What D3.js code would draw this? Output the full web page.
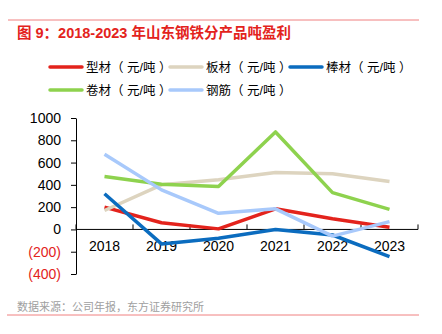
<!DOCTYPE html>
<html>
<head>
<meta charset="utf-8">
<script src="https://cdn.jsdelivr.net/npm/d3@7"></script>
<style>
  body { margin: 0; background: #fff; }
  text { font-family: "Liberation Sans", Arial, "Noto Sans CJK SC", sans-serif; }
</style>
</head>
<body>
<svg id="chart"></svg>
<script>
const years = ["2018", "2019", "2020", "2021", "2022", "2023"];
const xingcai = [200, 60, 5, 185, 95, 20];
const bancai = [170, 400, 445, 510, 500, 430];
const bangcai = [320, -130, -80, 0, -50, -245];
const juancai = [475, 405, 385, 875, 330, 180];
const gangjin = [675, 355, 145, 185, -60, 70];
const yTicks = [1000, 800, 600, 400, 200, 0, -200, -400];

const series = [
  { name: "型材（ 元/吨 ）", values: xingcai, color: "#e3231c" },
  { name: "板材（ 元/吨 ）", values: bancai, color: "#ddd4bf" },
  { name: "棒材（ 元/吨 ）", values: bangcai, color: "#0b6cbf" },
  { name: "卷材（ 元/吨 ）", values: juancai, color: "#8ed24e" },
  { name: "钢筋（ 元/吨 ）", values: gangjin, color: "#a8c9fb" }
];

const W = 442, H = 334;
const svg = d3.select("#chart").attr("width", W).attr("height", H);

// header and footer rules
svg.append("line").attr("x1", 8).attr("x2", 419).attr("y1", 20).attr("y2", 20)
  .attr("stroke", "#f08080").attr("stroke-width", 1);
svg.append("text").attr("x", 17).attr("y", 38)
  .attr("fill", "#e3231c").attr("font-size", 14.5).attr("font-weight", "bold")
  .text("图 9：2018-2023 年山东钢铁分产品吨盈利");
svg.append("line").attr("x1", 7).attr("x2", 419).attr("y1", 315).attr("y2", 315)
  .attr("stroke", "#f08080").attr("stroke-width", 1);
svg.append("text").attr("x", 17).attr("y", 311)
  .attr("fill", "#a0a0a0").attr("font-size", 11)
  .text("数据来源：公司年报，东方证券研究所");

// legend
const legendPos = [[50, 67], [170, 67], [290, 67], [50, 90], [170, 90]];
series.forEach((s, i) => {
  const [lx, ly] = legendPos[i];
  svg.append("line").attr("x1", lx).attr("x2", lx + 32).attr("y1", ly).attr("y2", ly)
    .attr("stroke", s.color).attr("stroke-width", 3.5).attr("stroke-linecap", "round");
  svg.append("text").attr("x", lx + 36).attr("y", ly + 5)
    .attr("font-size", 12.5).attr("fill", "#000").text(s.name);
});

// scales
const x = d3.scaleBand().domain(years).range([76, 418]);
const y = d3.scaleLinear().domain([-400, 1000]).range([274, 118]);

// y axis
const yAxis = svg.append("g").attr("transform", "translate(76,0)")
  .call(d3.axisLeft(y).tickValues(yTicks).tickSize(5).tickSizeOuter(0)
    .tickFormat(d => d < 0 ? `(${-d})` : d));
yAxis.select(".domain").attr("stroke", "#000");
yAxis.selectAll("text").attr("font-size", 14).attr("x", -15)
  .attr("fill", d => d < 0 ? "#e3231c" : "#000");

// x axis at zero
const xAxis = svg.append("g").attr("transform", `translate(0,${y(0)})`);
xAxis.append("line").attr("x1", 76).attr("x2", 418).attr("stroke", "#000");
const edges = years.map(d => x(d)).concat([x.range()[1]]);
xAxis.selectAll(".tk").data(edges).join("line").attr("class", "tk")
  .attr("x1", d => d).attr("x2", d => d).attr("y1", 0).attr("y2", -5).attr("stroke", "#000");
xAxis.selectAll(".lbl").data(years).join("text").attr("class", "lbl")
  .attr("x", d => x(d) + x.bandwidth() / 2).attr("y", 22)
  .attr("text-anchor", "middle").attr("font-size", 14).text(d => d);

// lines
const line = d3.line()
  .x((d, i) => x(years[i]) + x.bandwidth() / 2)
  .y(d => y(d));
series.forEach(s => {
  svg.append("path").datum(s.values).attr("d", line)
    .attr("fill", "none").attr("stroke", s.color).attr("stroke-width", 3.5)
    .attr("stroke-linejoin", "round");
});
</script>
</body>
</html>
